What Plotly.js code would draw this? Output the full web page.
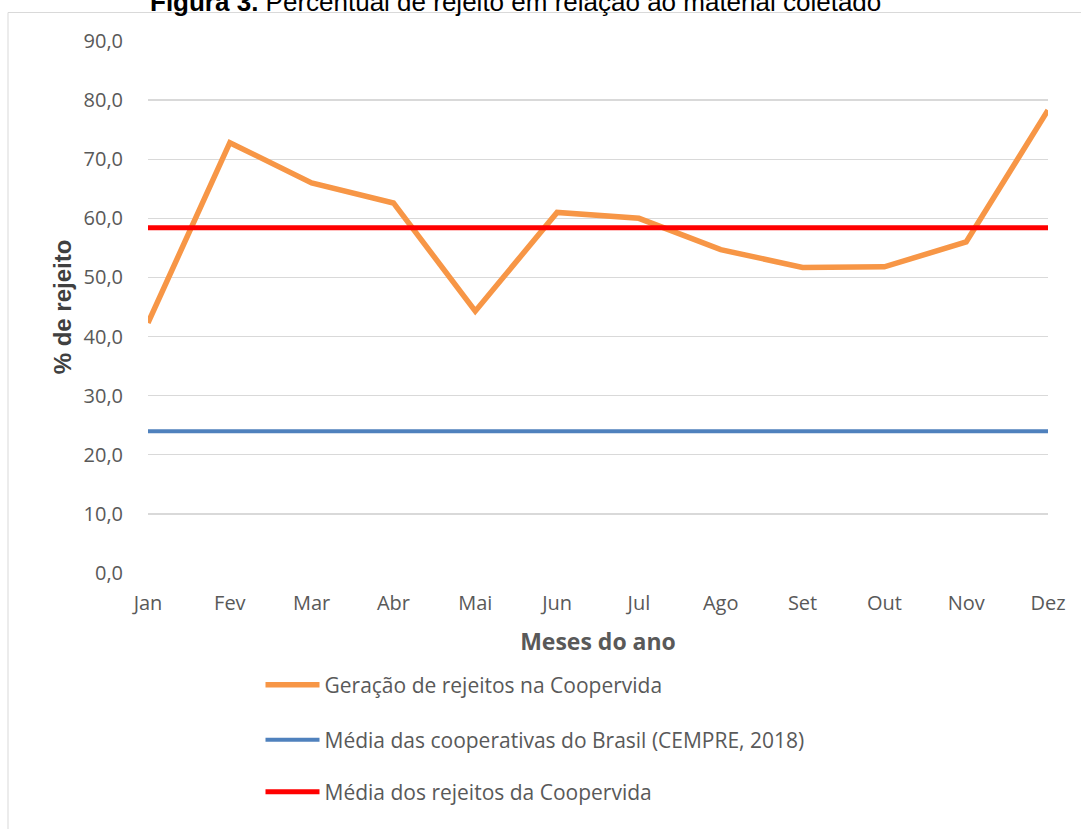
<!DOCTYPE html>
<html>
<head>
<meta charset="utf-8">
<script src="https://cdn.plot.ly/plotly-3.0.1.min.js"></script>
<style>html,body{margin:0;padding:0;background:#fff;}#chart{width:1081px;height:829px;}</style>
</head>
<body>
<div id="chart"></div>
<script>
const months = ["Jan","Fev","Mar","Abr","Mai","Jun","Jul","Ago","Set","Out","Nov","Dez"];
const geracaoCoopervida = [42.3, 72.8, 66.0, 62.6, 44.3, 61.0, 60.0, 54.7, 51.7, 51.8, 56.0, 78.3];
const mediaBrasil = [24.0, 24.0, 24.0, 24.0, 24.0, 24.0, 24.0, 24.0, 24.0, 24.0, 24.0, 24.0];
const mediaCoopervida = [58.4, 58.4, 58.4, 58.4, 58.4, 58.4, 58.4, 58.4, 58.4, 58.4, 58.4, 58.4];
const seriesNames = ["Geração de rejeitos na Coopervida", "Média das cooperativas do Brasil (CEMPRE, 2018)", "Média dos rejeitos da Coopervida"];
const yTicks = [0, 10, 20, 30, 40, 50, 60, 70, 80, 90];

const tickFont = {family: "Open Sans, sans-serif", size: 20, color: "#595959"};

const traces = [
  {x: months, y: geracaoCoopervida, name: seriesNames[0], type: "scatter", mode: "lines",
   line: {color: "#f79646", width: 5.5}, legend: "legend"},
  {x: months, y: mediaBrasil, name: seriesNames[1], type: "scatter", mode: "lines",
   line: {color: "#4f81bd", width: 4}, legend: "legend2"},
  {x: months, y: mediaCoopervida, name: seriesNames[2], type: "scatter", mode: "lines",
   line: {color: "#ff0000", width: 5}, legend: "legend3"}
];

const legFont = {family: "Open Sans, sans-serif", size: 21, color: "#595959"};
const legBase = {font: legFont, bgcolor: "rgba(0,0,0,0)", itemwidth: 54, xanchor: "left", yanchor: "middle", x: 0.125};

const layout = {
  width: 1081, height: 829,
  margin: {l: 148, r: 33, t: 41, b: 256},
  paper_bgcolor: "#ffffff", plot_bgcolor: "#ffffff",
  separators: ",.",
  showlegend: true,
  xaxis: {
    type: "category", categoryorder: "array", categoryarray: months,
    range: [0, 11], showgrid: false, zeroline: false, showline: false,
    ticks: "outside", ticklen: 12, tickcolor: "rgba(0,0,0,0)",
    tickfont: tickFont,
    title: {text: "Meses do ano", font: {family: "Open Sans, sans-serif", size: 23, color: "#595959", weight: "bold"}, standoff: 18}
  },
  yaxis: {
    range: [0, 90], tickvals: yTicks, tickformat: ".1f",
    showgrid: true, gridcolor: "#d9d9d9", gridwidth: 1.3, zeroline: false, showline: false,
    ticks: "outside", ticklen: 20, tickcolor: "rgba(0,0,0,0)",
    tickfont: tickFont,
    title: {text: "% de rejeito", font: {family: "Liberation Sans, Arial, sans-serif", size: 24, color: "#404040", weight: "bold"}, standoff: 5}
  },
  legend: Object.assign({}, legBase, {y: -0.2105}),
  legend2: Object.assign({}, legBase, {y: -0.3139}),
  legend3: Object.assign({}, legBase, {y: -0.4117}),
  annotations: [{
    xref: "paper", yref: "paper", x: (515 - 148) / 900, y: (573 - 19) / 532, xanchor: "center", yanchor: "bottom",
    showarrow: false,
    text: "<b>Figura 3.</b> Percentual de rejeito em relação ao material coletado",
    font: {family: "Liberation Sans, Arial, sans-serif", size: 26, color: "#000000"}
  }],
  shapes: [{
    type: "rect", xref: "paper", yref: "paper",
    x0: (8 - 148) / 900, x1: (1095 - 148) / 900,
    y0: (573 - 845) / 532, y1: (573 - 12.5) / 532,
    line: {color: "#d9d9d9", width: 1}, fillcolor: "rgba(0,0,0,0)", layer: "below"
  }]
};

Plotly.newPlot("chart", traces, layout, {displayModeBar: false, staticPlot: true});
</script>
</body>
</html>
